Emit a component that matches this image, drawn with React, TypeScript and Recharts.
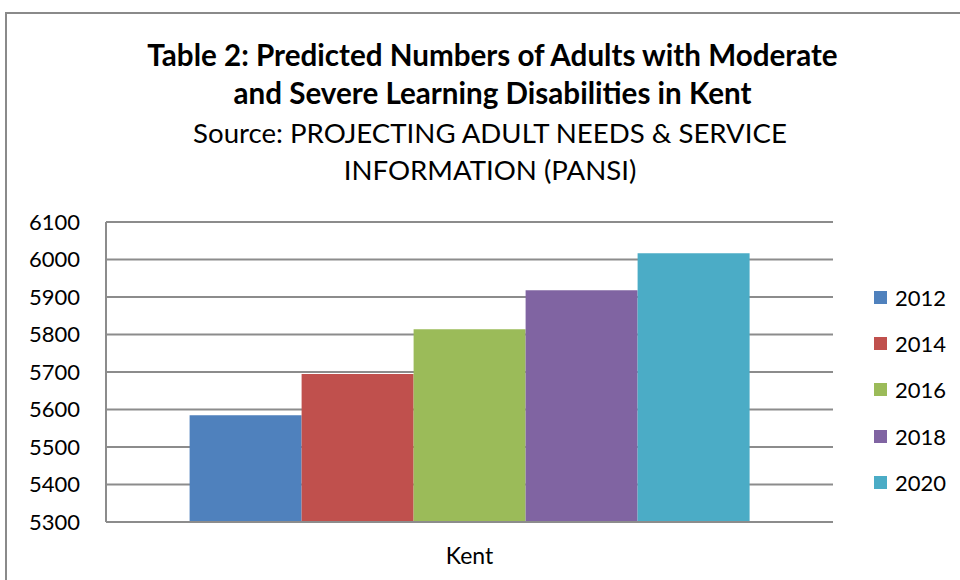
import React from "react";
import { BarChart, Bar, XAxis, YAxis, CartesianGrid } from "recharts";

const categories = ["Kent"];
const years = ["2012", "2014", "2016", "2018", "2020"];
const values = [5585, 5695, 5814, 5918, 6017];
const colors = ["#4F81BD", "#C0504D", "#9BBB59", "#8064A2", "#4BACC6"];
const yTicks = [5300, 5400, 5500, 5600, 5700, 5800, 5900, 6000, 6100];
const titleLines = [
  "Table 2: Predicted Numbers of Adults with Moderate",
  "and Severe Learning Disabilities in Kent",
];
const subtitleLines = ["Source: PROJECTING ADULT NEEDS & SERVICE", "INFORMATION (PANSI)"];

const data = categories.map((c) => {
  const row: Record<string, string | number> = { name: c };
  years.forEach((y, i) => {
    row[y] = values[i];
  });
  return row;
});

const FONT = "Lato, 'Liberation Sans', sans-serif";

export default function App() {
  const lineCenters = [55, 93];
  const subCenters = [133, 170];
  return (
    <div style={{ position: "absolute", left: 0, top: 0, width: 960, height: 580, background: "#fff", overflow: "hidden" }}>
      <div
        style={{
          position: "absolute",
          left: 5,
          top: 12,
          width: 1000,
          height: 1000,
          border: "2px solid #8a8a8a",
          boxSizing: "border-box",
        }}
      />
      {titleLines.map((t, i) => (
        <div
          key={t}
          style={{
            position: "absolute",
            left: 0,
            width: 985,
            top: lineCenters[i] - 20,
            height: 40,
            lineHeight: "40px",
            textAlign: "center",
            fontFamily: FONT,
            fontWeight: "bold",
            fontSize: 29.6,
            color: "#000",
            whiteSpace: "nowrap",
          }}
        >
          {t}
        </div>
      ))}
      {subtitleLines.map((t, i) => (
        <div
          key={t}
          style={{
            position: "absolute",
            left: 0,
            width: 980,
            top: subCenters[i] - 20,
            height: 40,
            lineHeight: "40px",
            textAlign: "center",
            fontFamily: FONT,
            fontSize: 27.6,
            color: "#000",
            whiteSpace: "nowrap",
          }}
        >
          {t}
        </div>
      ))}
      <div style={{ position: "absolute", left: 0, top: 0 }}>
        <BarChart
          width={960}
          height={580}
          data={data}
          margin={{ top: 222, right: 127, bottom: 0, left: 0 }}
          barCategoryGap="11.5%"
          barGap={0}
        >
          <CartesianGrid vertical={false} stroke="#8c8c8c" strokeWidth={2} />
          <YAxis
            domain={[5300, 6100]}
            ticks={yTicks}
            interval={0}
            width={106}
            tickLine={false}
            tickSize={0}
            tickMargin={26}
            axisLine={{ stroke: "#8c8c8c", strokeWidth: 2 }}
            tick={{ fill: "#000", fontSize: 22, fontFamily: FONT }}
            allowDataOverflow
          />
          <XAxis
            dataKey="name"
            height={58}
            tickLine={false}
            tickSize={0}
            tickMargin={26}
            axisLine={{ stroke: "#8c8c8c", strokeWidth: 2 }}
            tick={{ fill: "#000", fontSize: 23, fontFamily: FONT }}
          />
          {years.map((y, i) => (
            <Bar key={y} dataKey={y} fill={colors[i]} isAnimationActive={false} />
          ))}
        </BarChart>
      </div>
      <div style={{ position: "absolute", left: 874, top: 274, width: 86, fontFamily: FONT }}>
        {years.map((y, i) => (
          <div key={y} style={{ display: "flex", alignItems: "center", height: 46.3 }}>
            <div style={{ width: 13, height: 13, background: colors[i], marginRight: 8 }} />
            <span style={{ fontSize: 22, color: "#000" }}>{y}</span>
          </div>
        ))}
      </div>
    </div>
  );
}
